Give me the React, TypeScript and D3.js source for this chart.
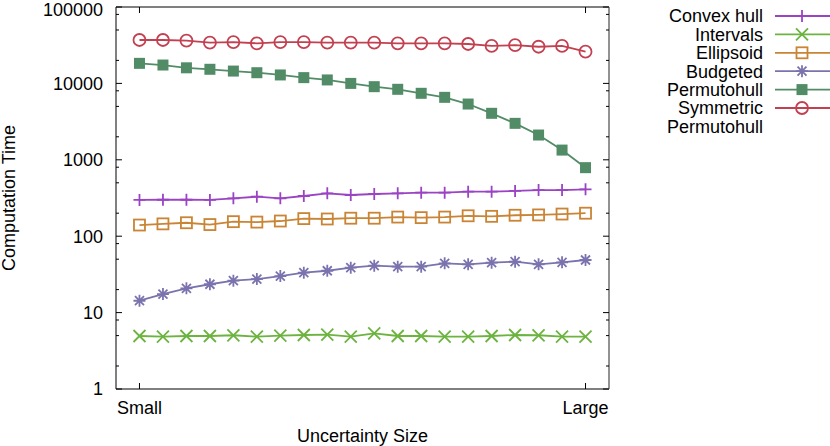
import React from "react";
import * as d3 from "d3";

const xLabels = ["Small", "Large"];
const yTickValues = [1, 10, 100, 1000, 10000, 100000];
const seriesNames = ["Convex hull", "Intervals", "Ellipsoid", "Budgeted", "Permutohull", "Symmetric Permutohull"];

const convexHull = [298, 300, 300, 298, 313, 329, 313, 336, 364, 346, 357, 364, 371, 371, 383, 383, 391, 402, 402, 411];
const intervals = [4.94, 4.84, 4.94, 4.94, 5.05, 4.84, 5.0, 5.09, 5.14, 4.84, 5.36, 4.94, 4.94, 4.84, 4.84, 4.94, 5.09, 5.05, 4.84, 4.84];
const ellipsoid = [140, 145, 150, 142, 155, 153, 158, 170, 168, 172, 172, 178, 175, 178, 185, 182, 188, 190, 195, 200];
const budgeted = [14.3, 17.5, 20.8, 23.5, 26.2, 27.5, 30.1, 33.3, 35.3, 38.7, 41.1, 39.9, 39.9, 44.2, 42.8, 45, 46.4, 42.8, 45.5, 48.8];
const permutohull = [18300, 17400, 16000, 15300, 14500, 13800, 12900, 11900, 11100, 10000, 9060, 8370, 7420, 6570, 5370, 4060, 3000, 2110, 1340, 789];
const symmetric = [37000, 37000, 36300, 34100, 34700, 33500, 34700, 34700, 34100, 34100, 34100, 33500, 33500, 33500, 32800, 30900, 31600, 30200, 30900, 26000];

const allSeries = [convexHull, intervals, ellipsoid, budgeted, permutohull, symmetric];
const colors = ["#9a44c4", "#6cb340", "#c98535", "#7a73ae", "#528c66", "#c24150"];
const markers = ["plus", "cross", "openSquare", "star", "filledSquare", "openCircle"];

const FONT = "'Liberation Sans', Arial, Helvetica, sans-serif";

function Marker({ type, x, y, color }: { type: string; x: number; y: number; color: string }) {
  const s = 6;
  switch (type) {
    case "plus":
      return <path d={`M${x - s},${y}H${x + s}M${x},${y - s}V${y + s}`} stroke={color} strokeWidth={1.8} fill="none" />;
    case "cross":
      return <path d={`M${x - s},${y - s}L${x + s},${y + s}M${x - s},${y + s}L${x + s},${y - s}`} stroke={color} strokeWidth={1.8} fill="none" />;
    case "openSquare":
      return <rect x={x - 5.5} y={y - 5.5} width={11} height={11} stroke={color} strokeWidth={1.8} fill="none" />;
    case "star":
      return (
        <path
          d={`M${x - s},${y}H${x + s}M${x},${y - s}V${y + s}M${x - 4.5},${y - 4.5}L${x + 4.5},${y + 4.5}M${x - 4.5},${y + 4.5}L${x + 4.5},${y - 4.5}`}
          stroke={color}
          strokeWidth={1.8}
          fill="none"
        />
      );
    case "filledSquare":
      return <rect x={x - 5.5} y={y - 5.5} width={11} height={11} fill={color} />;
    case "openCircle":
      return <circle cx={x} cy={y} r={6} stroke={color} strokeWidth={1.8} fill="none" />;
    default:
      return null;
  }
}

export default function App() {
  const W = 830, H = 446;
  const left = 116, right = 609, top = 7, bottom = 389;
  const n = convexHull.length;
  const x = d3.scaleLinear().domain([-1, n]).range([left, right]);
  const y = d3.scaleLog().domain([1, 100000]).range([bottom, top]);
  const line = d3.line<number>().x((_, i) => x(i)).y((d) => y(d));

  const minors: number[] = [];
  yTickValues.slice(0, -1).forEach((v) => {
    [2, 5, 8].forEach((m) => minors.push(v * m));
  });

  const legendY = (i: number) => 16 + i * 18.4;

  return (
    <svg width={W} height={H} style={{ position: "absolute", left: 0, top: 0, background: "#fff" }} fontFamily={FONT}>
      {/* frame */}
      <line x1={left} x2={right} y1={top} y2={top} stroke="#000" strokeWidth={1} />
      <line x1={left} x2={right} y1={bottom} y2={bottom} stroke="#000" strokeWidth={1} />
      <line x1={left} x2={left} y1={top} y2={bottom} stroke="#000" strokeWidth={1} />
      <line x1={right} x2={right} y1={top} y2={bottom} stroke="#777" strokeWidth={1.6} />

      {/* y ticks */}
      {yTickValues.map((v) => (
        <g key={"yt" + v}>
          <line x1={left} x2={left + 6} y1={y(v)} y2={y(v)} stroke="#000" />
          <line x1={right - 6} x2={right} y1={y(v)} y2={y(v)} stroke="#000" />
          <text x={103} y={Math.max(y(v), 9.5)} dy="0.36em" textAnchor="end" fontSize={18} fill="#000">
            {v}
          </text>
        </g>
      ))}
      {minors.map((v) => (
        <g key={"ym" + v}>
          <line x1={left} x2={left + 3} y1={y(v)} y2={y(v)} stroke="#000" />
          <line x1={right - 3} x2={right} y1={y(v)} y2={y(v)} stroke="#000" />
        </g>
      ))}

      {/* x ticks */}
      {[0, n - 1].map((i, k) => (
        <g key={"xt" + i}>
          <line x1={x(i)} x2={x(i)} y1={bottom} y2={bottom - 6} stroke="#000" />
          <line x1={x(i)} x2={x(i)} y1={top} y2={top + 6} stroke="#000" />
          <text x={x(i)} y={414} textAnchor="middle" fontSize={18} fill="#000">
            {xLabels[k]}
          </text>
        </g>
      ))}

      {/* axis labels */}
      <text x={(left + right) / 2} y={442} textAnchor="middle" fontSize={18} fill="#000">
        Uncertainty Size
      </text>
      <text transform={`translate(15,${(top + bottom) / 2}) rotate(-90)`} textAnchor="middle" fontSize={18} fill="#000">
        Computation Time
      </text>

      {/* series */}
      {allSeries.map((data, si) => (
        <g key={"s" + si}>
          <path d={line(data) || ""} fill="none" stroke={colors[si]} strokeWidth={1.8} />
          {data.map((d, i) => (
            <Marker key={i} type={markers[si]} x={x(i)} y={y(d)} color={colors[si]} />
          ))}
        </g>
      ))}

      {/* legend */}
      {seriesNames.map((name, i) => {
        const ly = legendY(i);
        const lines = name === "Symmetric Permutohull" ? ["Symmetric", "Permutohull"] : [name];
        return (
          <g key={"lg" + i}>
            {lines.map((t, k) => (
              <text key={k} x={763} y={ly + k * 18.4} dy="0.36em" textAnchor="end" fontSize={18} fill="#000">
                {t}
              </text>
            ))}
            <line x1={775} x2={830} y1={ly} y2={ly} stroke={colors[i]} strokeWidth={1.8} />
            <Marker type={markers[i]} x={802} y={ly} color={colors[i]} />
          </g>
        );
      })}
    </svg>
  );
}
